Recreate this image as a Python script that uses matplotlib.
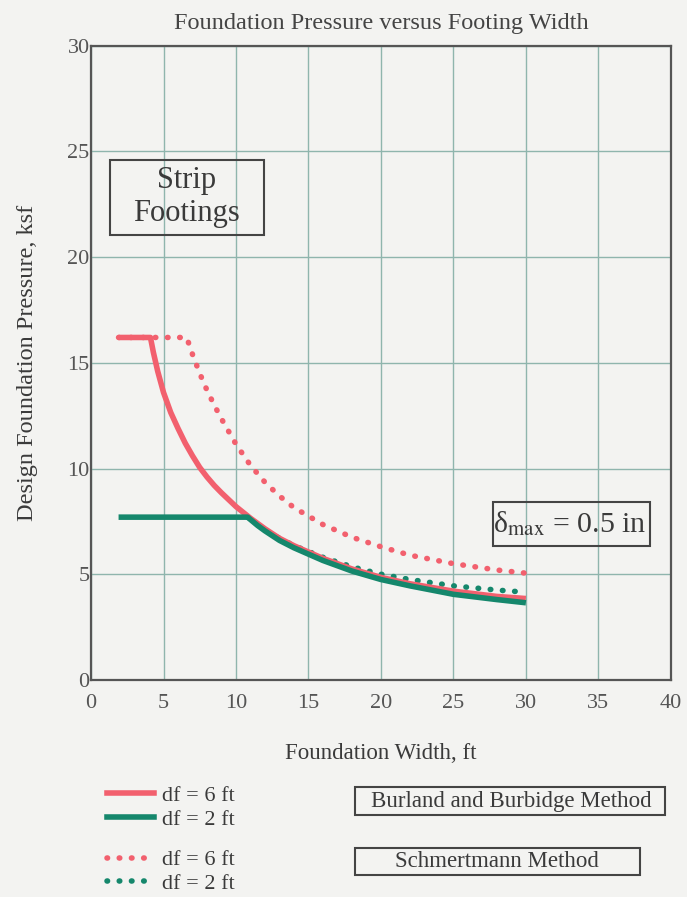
import numpy as np
import matplotlib.pyplot as plt
from matplotlib.lines import Line2D
from matplotlib.patches import Rectangle

# Burland and Burbidge method
bb_df6_x = [1.9, 4.1, 4.3, 4.6, 5, 5.5, 6, 6.5, 7, 7.5, 8, 8.5, 9, 10, 11, 12, 13, 14, 16, 18, 20, 22, 25, 28, 30]
bb_df6_y = [16.2, 16.2, 15.5, 14.6, 13.6, 12.65, 11.9, 11.2, 10.6, 10.05, 9.6, 9.2, 8.85, 8.2, 7.65, 7.15, 6.7, 6.35, 5.75, 5.25, 4.85, 4.55, 4.2, 3.95, 3.85]
bb_df2_x = [1.9, 10.8, 11.5, 12, 13, 14, 16, 18, 20, 22, 25, 28, 30]
bb_df2_y = [7.7, 7.7, 7.3, 7.05, 6.6, 6.25, 5.65, 5.15, 4.75, 4.45, 4.05, 3.8, 3.65]

# Schmertmann method
sc_df6_x = [1.9, 6.6, 7, 7.5, 8, 8.5, 9, 10, 11, 12, 13, 14, 16, 18, 20, 22, 25, 28, 30]
sc_df6_y = [16.2, 16.2, 15.4, 14.5, 13.7, 13.0, 12.35, 11.15, 10.15, 9.35, 8.7, 8.15, 7.35, 6.75, 6.3, 5.9, 5.5, 5.2, 5.05]
sc_df2_x = [10.8, 12, 13, 14, 16, 18, 20, 22, 25, 28, 30]
sc_df2_y = [7.7, 7.1, 6.7, 6.35, 5.8, 5.35, 5.0, 4.75, 4.45, 4.25, 4.15]

red = '#f2606e'
green = '#15876c'
grid_c = '#8fb5ad'
txt = '#3a3a3a'
dots = (0, (0.1, 2.1))
lw_solid = 4.0
lw_dot = 4.0

plt.rcParams['font.family'] = ['Liberation Serif', 'DejaVu Serif']
plt.rcParams['mathtext.fontset'] = 'stix'

fig = plt.figure(figsize=(6.87, 8.97), dpi=100, facecolor='#f3f3f1')
ax = fig.add_axes([0.1325, 0.242, 0.844, 0.707])
ax.set_facecolor('#f3f3f1')

ax.plot(sc_df6_x, sc_df6_y, color=red, lw=lw_dot, ls=dots, dash_capstyle='round', zorder=2)
ax.plot(sc_df2_x, sc_df2_y, color=green, lw=lw_dot, ls=dots, dash_capstyle='round', zorder=2)
ax.plot(bb_df6_x, bb_df6_y, color=red, lw=lw_solid, solid_capstyle='butt', zorder=3)
ax.plot(bb_df2_x, bb_df2_y, color=green, lw=lw_solid, solid_capstyle='butt', zorder=3)

ax.set_xlim(0, 40)
ax.set_ylim(0, 30)
ax.set_xticks(np.arange(0, 41, 5))
ax.set_yticks(np.arange(0, 31, 5))
ax.grid(True, color=grid_c, lw=1)
ax.set_axisbelow(True)
ax.tick_params(length=0, labelsize=16, colors='#555555')
ax.tick_params(axis='x', pad=10)
ax.tick_params(axis='y', pad=1)
for s in ax.spines.values():
    s.set_color('#555555')
    s.set_linewidth(1.6)

ax.set_title('Foundation Pressure versus Footing Width', fontsize=17.5, color='#444444', pad=12)
ax.set_xlabel('Foundation Width, ft', fontsize=16.5, color=txt, labelpad=22)
ax.set_ylabel('Design Foundation Pressure, ksf', fontsize=17.5, color=txt, labelpad=21)

# annotation boxes
ax.add_patch(Rectangle((1.3, 21.07), 10.6, 3.53, fc='none', ec='#444444', lw=1.5))
ax.text(6.6, 22.85, 'Strip\nFootings', fontsize=22, ha='center', va='center',
        color=txt, linespacing=1.2)
ax.add_patch(Rectangle((27.7, 6.33), 10.85, 2.08, fc='none', ec='#444444', lw=1.5))
ax.text(27.75, 7.4, r'δ$_{\rm max}$ = 0.5 in', fontsize=21.5, ha='left', va='center',
        color=txt)

h1 = [Line2D([], [], color=red, lw=lw_solid), Line2D([], [], color=green, lw=lw_solid)]
h2 = [Line2D([], [], color=red, lw=lw_dot, ls=dots, dash_capstyle='round'),
      Line2D([], [], color=green, lw=lw_dot, ls=dots, dash_capstyle='round')]
lab = ['df = 6 ft', 'df = 2 ft']
leg1 = fig.legend(h1, lab, loc='upper left', bbox_to_anchor=(0.14, 0.137), frameon=False,
                  fontsize=16, handlelength=2.1, labelspacing=0.15, handletextpad=0.35,
                  borderpad=0)
leg2 = fig.legend(h2, lab, loc='upper left', bbox_to_anchor=(0.14, 0.065), frameon=False,
                  fontsize=16, handlelength=2.1, labelspacing=0.15, handletextpad=0.35,
                  borderpad=0)
for leg in (leg1, leg2):
    for t in leg.get_texts():
        t.set_color(txt)

# method boxes next to the legend
fig.add_artist(Rectangle((355 / 687, 1 - 815 / 897), 310 / 687, 28 / 897, transform=fig.transFigure,
                         fc='none', ec='#444444', lw=1.5))
fig.add_artist(Rectangle((355 / 687, 1 - 875 / 897), 285 / 687, 27 / 897, transform=fig.transFigure,
                         fc='none', ec='#444444', lw=1.5))
fig.text(511 / 687, 1 - 801 / 897, 'Burland and Burbidge Method', fontsize=16.5, ha='center',
         va='center', color=txt)
fig.text(497 / 687, 1 - 861 / 897, 'Schmertmann Method', fontsize=16.5, ha='center',
         va='center', color=txt)

fig.savefig('out.png', dpi=100, facecolor=fig.get_facecolor())
